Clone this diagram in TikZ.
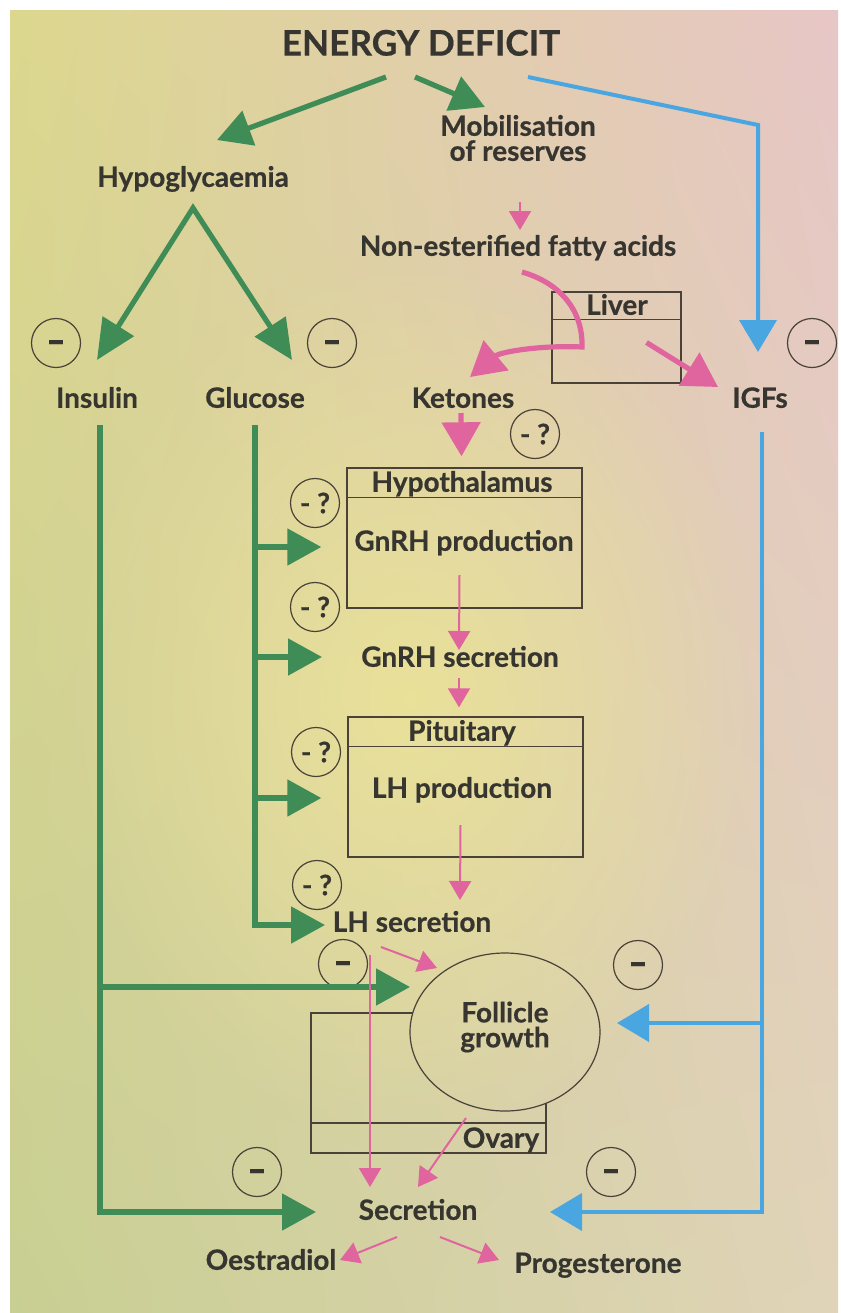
\documentclass[tikz,border=0pt]{standalone}
\usepackage{fontspec}
\setmainfont{Lato}[BoldFeatures={FakeBold=0.5}]
\usetikzlibrary{arrows.meta,shapes.geometric,shadings,fadings}
\definecolor{ink}{HTML}{36352F}
\definecolor{frame}{HTML}{4A4238}
\definecolor{leaf}{HTML}{3F8C56}
\definecolor{sky}{HTML}{4AA6E0}
\definecolor{rose}{HTML}{E0649E}
\definecolor{bgul}{HTML}{DCD78E}
\definecolor{bgur}{HTML}{E7C6C6}
\definecolor{bgll}{HTML}{C8CF92}
\definecolor{bglr}{HTML}{E0D4B8}
\definecolor{bgmid}{HTML}{ECE497}
\newcommand\lblsize{\fontsize{14}{12.5}\selectfont\bfseries}
\newcommand\minussign{\scalebox{1.2}[1.6]{–}}
\tikzfading[name=glow,inner color=transparent!15,outer color=transparent!100]
\begin{document}
\begin{tikzpicture}[x=0.5pt,y=-0.5pt,
  lbl/.style={font=\lblsize,text=ink,inner sep=0pt,text height=9.8pt,text depth=0pt},
  lbltwo/.style={font=\lblsize,text=ink,inner sep=0pt,align=center},
  organ/.style={draw=frame,line width=0.7pt,inner sep=0pt},
  sign/.style={circle,draw=frame,line width=0.6pt,minimum size=24.5pt,inner sep=0pt,font=\lblsize,text=ink},
  minus/.style={sign,text height=12.5pt,text depth=0pt},
  garrow/.style={draw=leaf,line width=2.6pt,-{Triangle[width=18pt,length=17pt]}},
  gboth/.style={draw=leaf,line width=2.6pt,{Triangle[width=18pt,length=20pt]}-{Triangle[width=18pt,length=20pt]}},
  barrow/.style={draw=sky,line width=2pt,-{Triangle[width=18.5pt,length=16pt]}},
  parrow/.style={draw=rose,line width=1pt,-{Triangle[width=11pt,length=9.5pt]}},
  pthick/.style={draw=rose,line width=2.6pt,-{Triangle[width=19pt,length=17pt]}}]
 \useasboundingbox (0,0) rectangle (841,1313);
 \shade[upper left=bgul,upper right=bgur,lower left=bgll,lower right=bglr] (10,10) rectangle (838,1313);
 \fill[bgmid,path fading=glow] (60,250) rectangle (760,1150);

 \node[lbl,font=\fontsize{17.6}{17.6}\selectfont\bfseries,text height=12.6pt] (deficit) at (421,43) {ENERGY DEFICIT};
 \node[lbltwo] (mobil) at (518,138) {Mobilisation\\of reserves};
 \node[lbl] (hypo) at (193,177) {Hypoglycaemia};
 \node[lbl] (nefa) at (518,246) {Non-esterified fatty acids};
 \node[lbl] (insulin) at (97,398) {Insulin};
 \node[lbl] (glucose) at (255,398) {Glucose};
 \node[lbl] (ketones) at (463,398) {Ketones};
 \node[lbl] (igfs) at (760,398) {IGFs};

 \node[organ,minimum width=64.5pt,minimum height=45.5pt] (liver) at (616.5,337.5) {};
 \draw[frame,line width=0.7pt] ([shift={(0,28)}]liver.north west) -- ([shift={(0,28)}]liver.north east);
 \node[lbl] (livertxt) at (617,305) {Liver};

 \node[organ,minimum width=117.5pt,minimum height=70pt] (hypbox) at (464.5,538) {};
 \draw[frame,line width=0.7pt] ([shift={(0,30)}]hypbox.north west) -- ([shift={(0,30)}]hypbox.north east);
 \node[lbl] (hyptxt) at (462,482) {Hypothalamus};
 \node[lbl] (gnrhprod) at (464,541) {GnRH production};
 \node[lbl] (gnrhsec) at (460,657) {GnRH secretion};

 \node[organ,minimum width=117.5pt,minimum height=70pt] (pitbox) at (465.5,787) {};
 \draw[frame,line width=0.7pt] ([shift={(0,30)}]pitbox.north west) -- ([shift={(0,30)}]pitbox.north east);
 \node[lbl] (pittxt) at (462,731) {Pituitary};
 \node[lbl] (lhprod) at (462,788) {LH production};
 \node[lbl] (lhsec) at (412,922) {LH secretion};

 \draw[frame,line width=0.7pt] (413,1013) -- (311,1013) -- (311,1153) -- (546,1153) -- (546,1103);
 \draw[frame,line width=0.7pt] (311,1123) -- (546,1123);
 \node[lbl] (ovary) at (501,1138) {Ovary};
 \node[ellipse,draw=frame,line width=0.6pt,minimum width=95pt,minimum height=79pt,inner sep=0pt] (follicle) at (505,1032) {};
 \node[lbltwo] (folltxt) at (505,1027) {Follicle\\growth};

 \node[lbl] (secretion) at (418,1210) {Secretion};
 \node[lbl] (oestr) at (271,1260) {Oestradiol};
 \node[lbl] (proges) at (598,1263) {Progesterone};

 \node[minus] (mins) at (56,343) {\minussign};
 \node[minus] (mglu) at (332,343) {\minussign};
 \node[minus] (migf) at (812,343) {\minussign};
 \node[sign] (qket) at (535,434) {- ?};
 \node[sign] (qgn1) at (315,503) {- ?};
 \node[sign] (qgn2) at (315,607) {- ?};
 \node[sign] (qlh1) at (316,752) {- ?};
 \node[sign] (qlh2) at (317,885) {- ?};
 \node[minus] (mfol) at (343,964) {\minussign};
 \node[minus] (mfolr) at (638,965) {\minussign};
 \node[minus] (msecl) at (257,1172) {\minussign};
 \node[minus] (msecr) at (611,1172) {\minussign};

 \coordinate (apex) at (193,208);
 \coordinate (g1) at (255,547);
 \coordinate (g2) at (255,657);
 \coordinate (g3) at (255,798);
 \coordinate (ins) at (100,987);
 \coordinate (igj) at (762,1023);

 \draw[garrow] ([shift={(-35,34)}]deficit.center) -- ([shift={(24,-37)}]hypo.center);
 \draw[garrow] ([shift={(-6,34)}]deficit.center) -- ([shift={(-33,-31)}]mobil.center);
 \draw[gboth] ([shift={(0,-38)}]insulin.center) -- (apex) -- ([shift={(37,-38)}]glucose.center);
 \draw[garrow] ([shift={(3,27)}]insulin.center) |- ([shift={(-102,2)}]secretion.center);
 \draw[garrow] (ins) -- ([shift={(-95,-45)}]follicle.center);
 \draw[garrow] ([shift={(0,27)}]glucose.center) |- ([shift={(-87,3)}]lhsec.center);
 \draw[garrow] (g1) -- ([shift={(-25,9)}]hypbox.west);
 \draw[garrow] (g2) -- ([shift={(-138,0)}]gnrhsec.center);
 \draw[garrow] (g3) -- ([shift={(-26,11)}]pitbox.west);

 \draw[barrow] ([shift={(107,34)}]deficit.center) -- ([shift={(-2,-273)}]igfs.center) -- ([shift={(-2,-46)}]igfs.center);
 \draw[barrow] ([shift={(2,34)}]igfs.center) |- ([shift={(132,2)}]secretion.center);
 \draw[barrow] (igj) -- ([shift={(112,-9)}]follicle.center);

 \draw[parrow] ([shift={(2,64)}]mobil.center) -- ([shift={(2,-16)}]nefa.center);
 \draw[pthick] ([shift={(4,26)}]nefa.center) .. controls (560,283) and (583,310) .. (582,347)
   .. controls (540,345) and (500,352) .. ([shift={(7,-21)}]ketones.center);
 \draw[pthick] ([shift={(30,5)}]liver.center) -- ([shift={(-42,-11)}]igfs.center);
 \draw[pthick] ([shift={(-2,15)}]ketones.center) -- ([shift={(-3,-11)}]hypbox.north);
 \draw[parrow] ([shift={(-5,37)}]hypbox.center) -- ([shift={(-1,-7)}]gnrhsec.center);
 \draw[parrow] ([shift={(-1,21)}]gnrhsec.center) -- ([shift={(-6.5,-9)}]pitbox.north);
 \draw[parrow] ([shift={(-5,38)}]pitbox.center) -- ([shift={(48,-22)}]lhsec.center);
 \draw[parrow] ([shift={(-31,25)}]lhsec.center) -- ([shift={(-68,-64)}]follicle.center);
 \draw[parrow] ([shift={(-42,33)}]lhsec.center) -- ([shift={(-48,-23)}]secretion.center);
 \draw[parrow] ([shift={(-39,86)}]follicle.center) -- ([shift={(0,-23)}]secretion.center);
 \draw[parrow] ([shift={(-21,27)}]secretion.center) -- ([shift={(69,0)}]oestr.center);
 \draw[parrow] ([shift={(22,27)}]secretion.center) -- ([shift={(-99,-3)}]proges.center);
\end{tikzpicture}
\end{document}
